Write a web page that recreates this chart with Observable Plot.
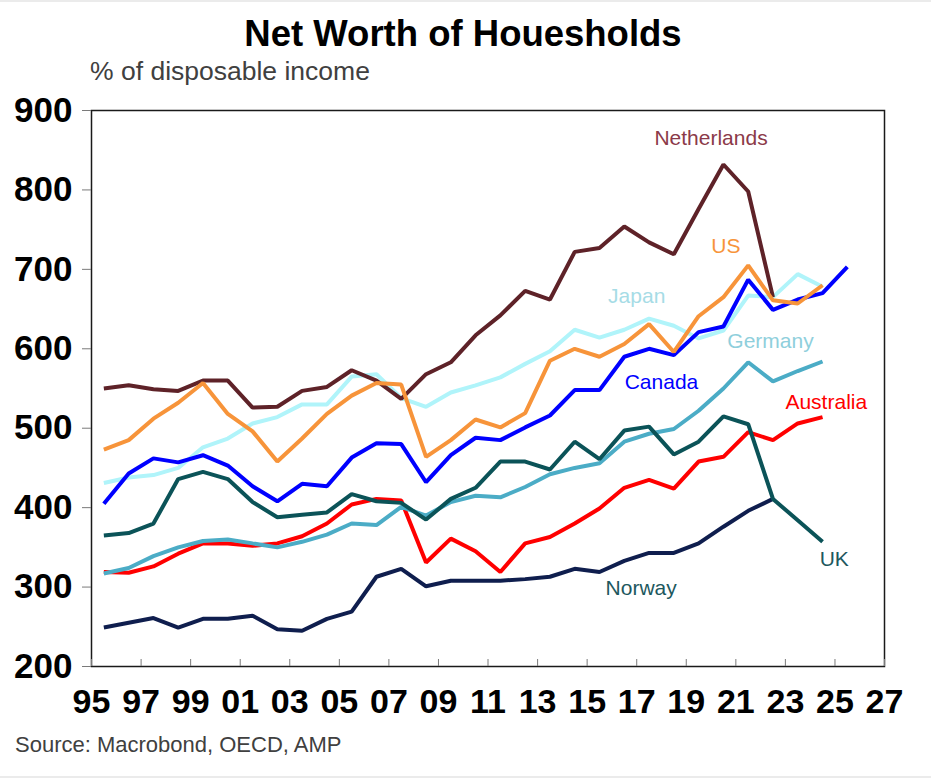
<!DOCTYPE html>
<html>
<head>
<meta charset="utf-8">
<script src="https://cdn.jsdelivr.net/npm/d3@7"></script>
<script src="https://cdn.jsdelivr.net/npm/@observablehq/plot@0.6"></script>
<style>
html, body { margin: 0; padding: 0; background: #fff; }
#wrap { position: relative; width: 931px; height: 781px; overflow: hidden; font-family: "Liberation Sans", Arial, sans-serif; }
.t { position: absolute; white-space: nowrap; line-height: 1; }
#title { left: 0; width: 926px; text-align: center; top: 15.8px; font-size: 36.5px; font-weight: bold; color: #000; }
#subtitle { left: 90px; top: 57.6px; font-size: 26.5px; color: #404040; }
#source { left: 15px; top: 734.4px; font-size: 22px; color: #404040; }
#chart { position: absolute; left: 0; top: 0; }
#topline { position: absolute; left: 0; top: 0; width: 931px; height: 2px; background: #ebebeb; }
#botline { position: absolute; left: 0; top: 776px; width: 931px; height: 2px; background: #ebebeb; }
</style>
</head>
<body>
<div id="wrap">
  <div id="chart"></div>
  <div id="topline"></div>
  <div id="botline"></div>
  <div class="t" id="title">Net Worth of Houesholds</div>
  <div class="t" id="subtitle">% of disposable income</div>
  <div class="t" id="source">Source: Macrobond, OECD, AMP</div>
</div>
<script>
// ---- Data (% of disposable income), annual, first value = 1995 ----
const startYear = 1995;
const japan       = [431, 438, 441, 450, 476, 487, 506, 514, 530, 530, 565, 568, 538, 527, 545, 554, 564, 581, 597, 624, 614, 624, 638, 629, 613, 623, 667, 665, 694, 678];
const canada      = [405, 443, 462, 457, 466, 453, 427, 408, 430, 427, 463, 481, 480, 432, 466, 488, 485, 501, 516, 548, 548, 590, 600, 592, 621, 628, 687, 649, 662, 670, 703];
const australia   = [319, 318, 326, 342, 355, 355, 352, 355, 364, 380, 404, 411, 409, 331, 361, 345, 319, 355, 363, 380, 399, 425, 435, 424, 458, 464, 495, 485, 506, 514];
const germany     = [317, 324, 339, 350, 358, 360, 355, 350, 357, 366, 380, 378, 401, 390, 407, 415, 413, 426, 442, 450, 456, 483, 493, 499, 522, 550, 583, 559, 572, 584];
const norway      = [249, 255, 261, 249, 260, 260, 264, 247, 245, 260, 269, 313, 323, 301, 308, 308, 308, 310, 313, 323, 319, 333, 343, 343, 355, 376, 396, 411];
const netherlands = [550, 554, 549, 547, 560, 560, 526, 527, 547, 552, 573, 560, 537, 568, 583, 617, 642, 673, 662, 722, 727, 754, 734, 719, 776, 832, 798, 665];
const uk          = [365, 368, 380, 436, 445, 436, 407, 388, 391, 394, 417, 408, 406, 385, 411, 425, 458, 458, 448, 483, 461, 497, 502, 467, 483, 515, 505, 411, 384, 357];
const us          = [473, 485, 512, 532, 557, 518, 496, 458, 487, 518, 541, 557, 555, 464, 485, 511, 501, 519, 585, 600, 590, 606, 631, 596, 641, 665, 705, 661, 657, 680];

const seriesNames  = ["Japan", "Canada", "Australia", "Germany", "Norway", "Netherlands", "UK", "US"];
const seriesValues = [japan, canada, australia, germany, norway, netherlands, uk, us];
const lineColors   = ["#B0F4FA", "#0000FF", "#FF0000", "#4BACC6", "#0F1E4E", "#5E2228", "#0B5358", "#F7943A"];

// y-axis ticks and x-axis tick labels
const yTicks = [200, 300, 400, 500, 600, 700, 800, 900];
const xTickYears  = [1995, 1997, 1999, 2001, 2003, 2005, 2007, 2009, 2011, 2013, 2015, 2017, 2019, 2021, 2023, 2025, 2027];
const xTickLabels = ["95", "97", "99", "01", "03", "05", "07", "09", "11", "13", "15", "17", "19", "21", "23", "25", "27"];

// Series labels: name, position (decimal year, value), colour
const labelNames  = ["Netherlands", "US", "Japan", "Germany", "Canada", "Australia", "UK", "Norway"];
const labelYears  = [2020.0, 2020.6, 2017.0, 2022.4, 2018.0, 2024.65, 2024.97, 2017.18];
const labelValues = [864.5, 729.4, 666.5, 609.8, 557.6, 532.7, 334.7, 298.8];
const labelColors = ["#8B3A49", "#F7943A", "#A6DCE6", "#8FCFDC", "#0000FF", "#FF0000", "#1D585E", "#1D585E"];

// ---- Build tables ----
const yearToDate = (y) => {
  const whole = Math.floor(y);
  const start = Date.UTC(whole, 0, 1), end = Date.UTC(whole + 1, 0, 1);
  return new Date(start + (y - whole) * (end - start));
};
const midYear = (y) => new Date(Date.UTC(y, 6, 2));

const tables = seriesValues.map((vals, si) =>
  vals.map((v, i) => ({country: seriesNames[si], date: midYear(startYear + i), value: v}))
);
const labels = labelNames.map((n, i) => ({name: n, date: yearToDate(labelYears[i]), value: labelValues[i], color: labelColors[i]}));
const xTicks = xTickYears.map(y => new Date(Date.UTC(y, 0, 1)));

const marks = [];
tables.forEach((t, si) => {
  marks.push(Plot.line(t, {x: "date", y: "value", stroke: lineColors[si], strokeWidth: 4, strokeLinejoin: "miter", strokeLinecap: "butt"}));
});
labels.forEach(l => {
  marks.push(Plot.text([l], {x: "date", y: "value", text: "name", fill: l.color, fontSize: 21, textAnchor: "middle", lineAnchor: "middle"}));
});
marks.push(Plot.frame({stroke: "#1a1a1a", strokeWidth: 1.5}));
marks.push(Plot.axisY({ticks: yTicks, tickSize: 9, tickPadding: 10, stroke: "#7a7a7a", fill: "#000", fontSize: 35, fontWeight: "bold", label: null}));
marks.push(Plot.axisX({ticks: xTicks, tickSize: 0, tickPadding: 22, fill: "#000", fontSize: 34, fontWeight: "bold", label: null,
  tickFormat: (d) => xTickLabels[xTickYears.indexOf(d.getUTCFullYear())]}));
marks.push(Plot.axisX({ticks: xTicks, tickSize: -7, text: null, stroke: "#7a7a7a", label: null}));

const chart = Plot.plot({
  width: 931,
  height: 781,
  marginLeft: 91,
  marginRight: 47,
  marginTop: 110,
  marginBottom: 115,
  style: {fontFamily: "Liberation Sans, Arial, sans-serif", background: "transparent", overflow: "visible"},
  x: {type: "utc", domain: [new Date(Date.UTC(1995, 0, 1)), new Date(Date.UTC(2027, 0, 1))]},
  y: {domain: [200, 900]},
  marks
});
document.getElementById("chart").appendChild(chart);
</script>
</body>
</html>
